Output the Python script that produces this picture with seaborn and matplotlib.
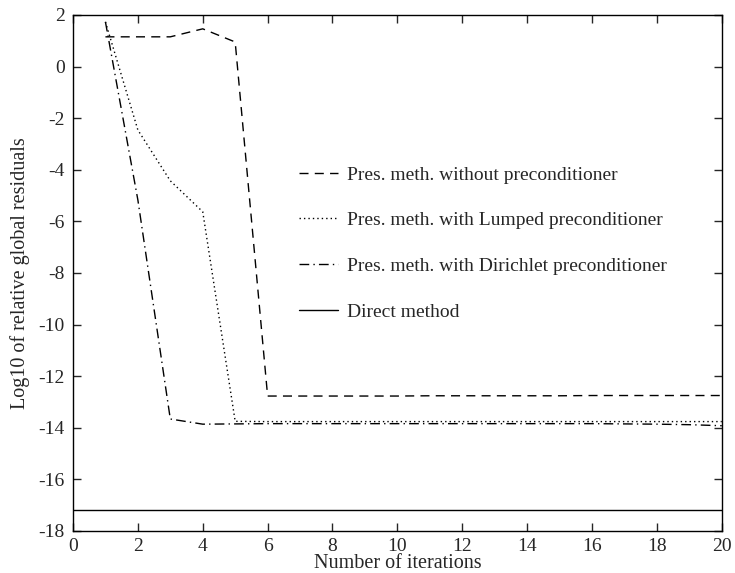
import numpy as np
import pandas as pd
import matplotlib
matplotlib.use("Agg")
import matplotlib.pyplot as plt
import seaborn as sns

# ---- data ----
iters = list(range(1, 21))
no_prec = [1.15, 1.15, 1.15, 1.46, 0.95, -12.77, -12.77, -12.77, -12.77, -12.77,
           -12.76, -12.76, -12.76, -12.76, -12.76, -12.75, -12.75, -12.75, -12.75, -12.75]
lumped = [1.73, -2.46, -4.43, -5.63, -13.75, -13.76, -13.76, -13.76, -13.76, -13.76,
          -13.76, -13.76, -13.76, -13.76, -13.76, -13.76, -13.76, -13.76, -13.76, -13.76]
dirichlet = [1.73, -5.17, -13.66, -13.86, -13.85, -13.84, -13.84, -13.84, -13.84, -13.84,
             -13.84, -13.84, -13.84, -13.84, -13.84, -13.84, -13.85, -13.86, -13.88, -13.92]
direct_x = [0, 20]
direct_y = [-17.2, -17.2]

labels = ["Pres. meth. without preconditioner",
          "Pres. meth. with Lumped preconditioner",
          "Pres. meth. with Dirichlet preconditioner",
          "Direct method"]

df = pd.concat([
    pd.DataFrame({"it": iters, "val": no_prec, "method": labels[0]}),
    pd.DataFrame({"it": iters, "val": lumped, "method": labels[1]}),
    pd.DataFrame({"it": iters, "val": dirichlet, "method": labels[2]}),
    pd.DataFrame({"it": direct_x, "val": direct_y, "method": labels[3]}),
], ignore_index=True)

sns.set_style("ticks")
plt.rcParams["font.family"] = ["Liberation Serif", "DejaVu Serif"]
plt.rcParams["font.size"] = 14
plt.rcParams["axes.unicode_minus"] = False

fig = plt.figure(figsize=(7.35, 5.73), dpi=100)
ax = fig.add_axes([0.0993, 0.0733, 0.8827, 0.9007])

dashes = {labels[0]: (6.5, 4.5),
          labels[1]: (1, 2.2),
          labels[2]: (7, 3, 1, 3),
          labels[3]: ""}
sns.lineplot(data=df, x="it", y="val", hue="method", style="method",
             palette=["black"] * 4, dashes=dashes, linewidth=1.0,
             ax=ax, sort=False, estimator=None)

ax.set_xlim(0, 20)
ax.set_ylim(-18, 2)
ax.set_xticks(np.arange(0, 21, 2))
ax.set_yticks(np.arange(-18, 3, 2))
ax.tick_params(direction="in", length=6, width=1, top=True, right=True,
               labelsize=14, pad=6)
ax.tick_params(axis="x", pad=5)
for s in ax.spines.values():
    s.set_linewidth(1.0)
    s.set_color("black")
ax.set_xlabel("Number of iterations", fontsize=14.5, labelpad=-1)
ax.set_ylabel("Log10 of relative global residuals", fontsize=14.5, labelpad=6)

leg = ax.legend(frameon=False, loc="upper left", bbox_to_anchor=(0.322, 0.741),
                fontsize=14, handlelength=2.0, labelspacing=1.44, handletextpad=0.45)
for line in leg.get_lines():
    line.set_linewidth(1.0)

fig.savefig("out.png", dpi=100)
